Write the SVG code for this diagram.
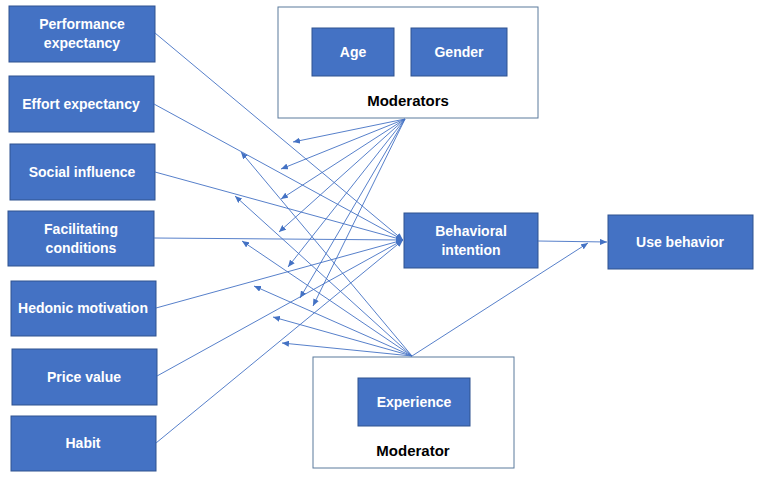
<svg xmlns="http://www.w3.org/2000/svg" width="762" height="479" viewBox="0 0 762 479">
<defs>
<marker id="ah" markerUnits="userSpaceOnUse" markerWidth="8" markerHeight="6" refX="7" refY="3" orient="auto">
<path d="M0,0 L7,3 L0,6 z" fill="#4472C4"/>
</marker>
<style>
.b{fill:#4472C4;stroke:#2F528F;stroke-width:1}
.f{fill:#fff;stroke:#5B7A9C;stroke-width:1}
.t{font-family:"Liberation Sans",Arial,sans-serif;font-weight:bold;font-size:14px;fill:#fff;text-anchor:middle}
.k{font-family:"Liberation Sans",Arial,sans-serif;font-weight:bold;font-size:15px;fill:#000;text-anchor:middle}
.c line{stroke:#4472C4;stroke-width:0.9;marker-end:url(#ah)}
</style>
</defs>
<rect width="762" height="479" fill="#fff"/>
<g id="mods">
<rect class="f" x="278" y="7" width="260" height="111"/>
<text class="k" x="408" y="106">Moderators</text>
</g>
<g id="age"><rect class="b" x="312" y="28" width="82" height="48"/><text class="t" x="353" y="57">Age</text></g>
<g id="gender"><rect class="b" x="411" y="28" width="96" height="48"/><text class="t" x="459" y="57">Gender</text></g>
<g id="modexp">
<rect class="f" x="313" y="357" width="201" height="111"/>
<text class="k" x="413" y="456">Moderator</text>
</g>
<g id="exp"><rect class="b" x="358" y="378" width="112" height="48"/><text class="t" x="414" y="407">Experience</text></g>
<g id="pe"><rect class="b" x="9" y="6" width="146" height="56"/><text class="t" x="82" y="29">Performance</text><text class="t" x="82" y="48">expectancy</text></g>
<g id="ee"><rect class="b" x="9" y="76" width="145" height="56"/><text class="t" x="81" y="109">Effort expectancy</text></g>
<g id="si"><rect class="b" x="10" y="144" width="145" height="56"/><text class="t" x="82" y="177">Social influence</text></g>
<g id="fc"><rect class="b" x="8" y="211" width="146" height="55"/><text class="t" x="81" y="234">Facilitating</text><text class="t" x="81" y="253">conditions</text></g>
<g id="hm"><rect class="b" x="11" y="281" width="145" height="55"/><text class="t" x="83" y="313">Hedonic motivation</text></g>
<g id="pv"><rect class="b" x="12" y="349" width="145" height="56"/><text class="t" x="84" y="382">Price value</text></g>
<g id="hb"><rect class="b" x="11" y="416" width="145" height="55"/><text class="t" x="83" y="448">Habit</text></g>
<g id="bi"><rect class="b" x="404" y="213" width="134" height="55"/><text class="t" x="471" y="236">Behavioral</text><text class="t" x="471" y="255">intention</text></g>
<g id="ub"><rect class="b" x="608" y="215" width="145" height="54"/><text class="t" x="680" y="247">Use behavior</text></g>
<g id="connectors" class="c">
<line x1="155" y1="33" x2="403" y2="240"/>
<line x1="154" y1="104" x2="403" y2="240"/>
<line x1="155" y1="172" x2="403" y2="240"/>
<line x1="154" y1="238" x2="403" y2="240"/>
<line x1="156" y1="308" x2="403" y2="240"/>
<line x1="157" y1="376" x2="403" y2="240"/>
<line x1="156" y1="443" x2="403" y2="240"/>
<line x1="405" y1="119" x2="293" y2="142"/>
<line x1="405" y1="119" x2="281" y2="169"/>
<line x1="405" y1="119" x2="281" y2="199"/>
<line x1="405" y1="119" x2="279" y2="232"/>
<line x1="405" y1="119" x2="288" y2="267"/>
<line x1="405" y1="119" x2="300" y2="298"/>
<line x1="405" y1="119" x2="313" y2="306"/>
<line x1="412" y1="356" x2="241" y2="152"/>
<line x1="412" y1="356" x2="235" y2="196"/>
<line x1="412" y1="356" x2="242" y2="241"/>
<line x1="412" y1="356" x2="254" y2="286"/>
<line x1="412" y1="356" x2="273" y2="317"/>
<line x1="412" y1="356" x2="282" y2="343"/>
<line x1="412" y1="356" x2="588" y2="243"/>
<line x1="538" y1="241" x2="607" y2="242"/>
</g>
</svg>
